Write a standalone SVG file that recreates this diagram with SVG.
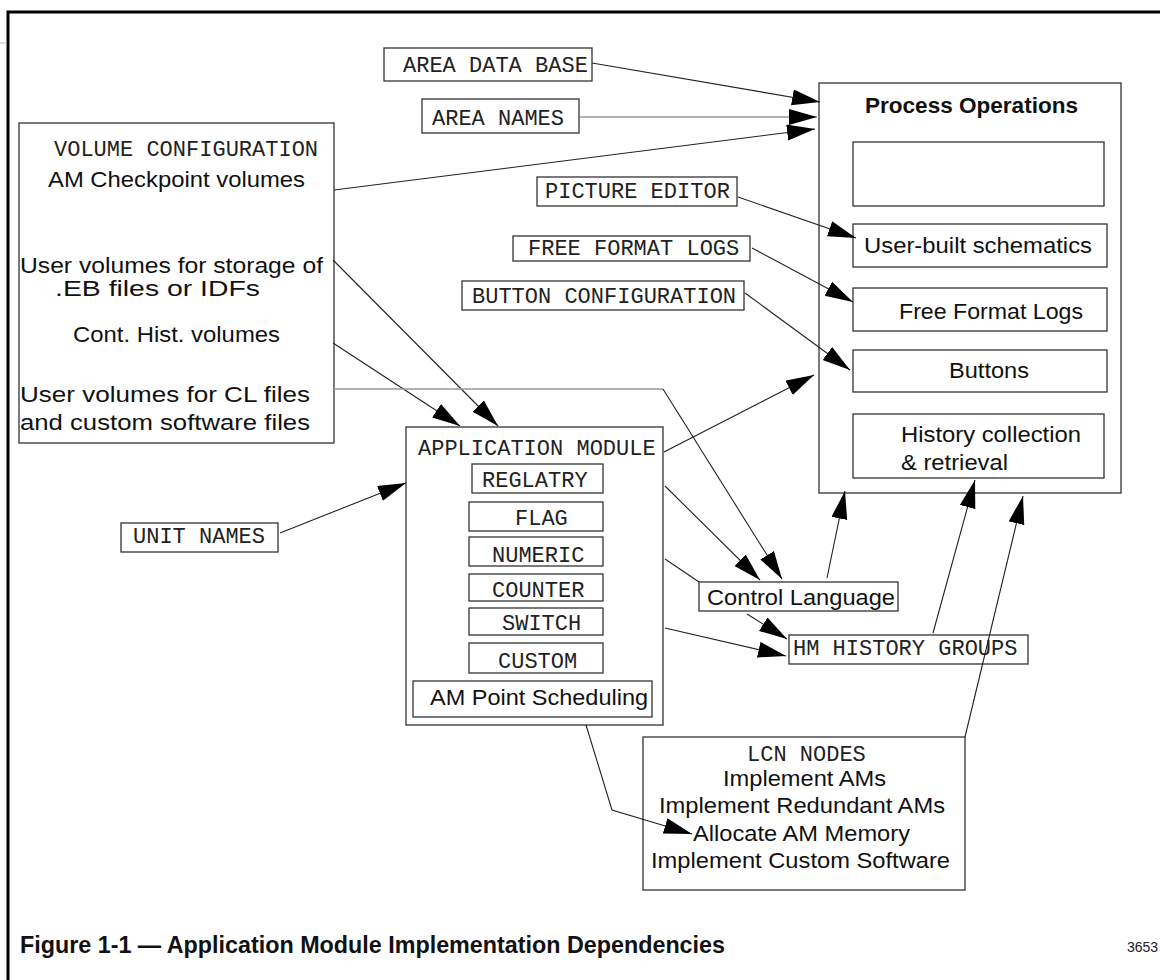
<svg xmlns="http://www.w3.org/2000/svg" width="1160" height="980" viewBox="0 0 1160 980">
  <defs>
    <style>
      .box { fill: #fff; stroke: #333; stroke-width: 1.3; }
      .mono { font-family: "Liberation Mono", "Courier New", monospace; font-size: 22px; fill: #222; }
      .sans { font-family: "Liberation Sans", Arial, sans-serif; font-size: 22px; fill: #111; }
      .bold { font-family: "Liberation Sans", Arial, sans-serif; font-weight: bold; fill: #111; }
      .wire { fill: none; stroke: #222; stroke-width: 1.1; }
      .wire.grey { stroke: #999; stroke-width: 1.4; }
      .frame { fill: none; stroke: #000; stroke-width: 3; }
    </style>
    <marker id="ah" markerUnits="userSpaceOnUse" markerWidth="30" markerHeight="18" refX="28" refY="8" orient="auto">
      <path d="M0,0 L28,8 L0,16 z" fill="#000"/>
    </marker>
  </defs>

  <rect width="1160" height="980" fill="#fff"/>

  <!-- page frame -->
  <g id="frame">
    <path class="frame" d="M8,980 L8,12 L1160,12"/>
    <line x1="0" y1="43" x2="7" y2="43" stroke="#bbb" stroke-width="1"/>
  </g>

  <g id="area-data-base">
    <rect class="box" x="384" y="48" width="208" height="33"/>
    <text class="mono" x="403" y="72">AREA DATA BASE</text>
  </g>

  <g id="area-names">
    <rect class="box" x="422" y="99" width="157" height="34"/>
    <text class="mono" x="432" y="125">AREA NAMES</text>
  </g>

  <g id="volume-configuration">
    <rect class="box" x="19" y="123" width="315" height="320"/>
    <text class="mono" x="54" y="156">VOLUME CONFIGURATION</text>
    <text class="sans" x="48" y="187" textLength="257" lengthAdjust="spacingAndGlyphs">AM Checkpoint volumes</text>
    <text class="sans" x="20" y="273" textLength="303" lengthAdjust="spacingAndGlyphs">User volumes for storage of</text>
    <text class="sans" x="55" y="296" textLength="205" lengthAdjust="spacingAndGlyphs">.EB files or IDFs</text>
    <text class="sans" x="73" y="342" textLength="207" lengthAdjust="spacingAndGlyphs">Cont. Hist. volumes</text>
    <text class="sans" x="20" y="402" textLength="290" lengthAdjust="spacingAndGlyphs">User volumes for CL files</text>
    <text class="sans" x="20" y="430" textLength="290" lengthAdjust="spacingAndGlyphs">and custom software files</text>
  </g>

  <g id="picture-editor">
    <rect class="box" x="537" y="177" width="200" height="29"/>
    <text class="mono" x="545" y="198">PICTURE EDITOR</text>
  </g>

  <g id="free-format-logs-config">
    <rect class="box" x="513" y="236" width="237" height="25"/>
    <text class="mono" x="528" y="255">FREE FORMAT LOGS</text>
  </g>

  <g id="button-configuration">
    <rect class="box" x="462" y="281" width="282" height="29"/>
    <text class="mono" x="472" y="303">BUTTON CONFIGURATION</text>
  </g>

  <g id="process-operations">
    <rect class="box" x="819" y="83" width="302" height="410"/>
    <text class="bold" x="865" y="113" font-size="22" textLength="213" lengthAdjust="spacingAndGlyphs">Process Operations</text>
    <rect class="box" x="853" y="142" width="251" height="64"/>
    <rect class="box" x="853" y="224" width="254" height="43"/>
    <text class="sans" x="864" y="253" textLength="228" lengthAdjust="spacingAndGlyphs">User-built schematics</text>
    <rect class="box" x="853" y="288" width="254" height="43"/>
    <text class="sans" x="899" y="319" textLength="184" lengthAdjust="spacingAndGlyphs">Free Format Logs</text>
    <rect class="box" x="853" y="350" width="254" height="42"/>
    <text class="sans" x="949" y="378" textLength="80" lengthAdjust="spacingAndGlyphs">Buttons</text>
    <rect class="box" x="853" y="414" width="251" height="64"/>
    <text class="sans" x="901" y="442" textLength="180" lengthAdjust="spacingAndGlyphs">History collection</text>
    <text class="sans" x="901" y="470" textLength="107" lengthAdjust="spacingAndGlyphs">&amp; retrieval</text>
  </g>

  <g id="application-module">
    <rect class="box" x="406" y="427" width="257" height="298"/>
    <text class="mono" x="418" y="455">APPLICATION MODULE</text>
    <rect class="box" x="472" y="464" width="131" height="29"/>
    <text class="mono" x="482" y="487">REGLATRY</text>
    <rect class="box" x="469" y="502" width="134" height="29"/>
    <text class="mono" x="515" y="525">FLAG</text>
    <rect class="box" x="469" y="537" width="134" height="29"/>
    <text class="mono" x="492" y="562">NUMERIC</text>
    <rect class="box" x="469" y="574" width="134" height="27"/>
    <text class="mono" x="492" y="597">COUNTER</text>
    <rect class="box" x="469" y="608" width="134" height="27"/>
    <text class="mono" x="502" y="630">SWITCH</text>
    <rect class="box" x="469" y="643" width="134" height="30"/>
    <text class="mono" x="498" y="668">CUSTOM</text>
    <rect class="box" x="413" y="681" width="239" height="36"/>
    <text class="sans" x="430" y="705" textLength="218" lengthAdjust="spacingAndGlyphs">AM Point Scheduling</text>
  </g>

  <g id="unit-names">
    <rect class="box" x="121" y="523" width="157" height="29"/>
    <text class="mono" x="133" y="543">UNIT NAMES</text>
  </g>

  <g id="control-language">
    <rect class="box" x="699" y="582" width="199" height="29"/>
    <text class="sans" x="707" y="605" textLength="188" lengthAdjust="spacingAndGlyphs">Control Language</text>
  </g>

  <g id="hm-history-groups">
    <rect class="box" x="789" y="635" width="239" height="29"/>
    <text class="mono" x="793" y="655">HM HISTORY GROUPS</text>
  </g>

  <g id="lcn-nodes">
    <rect class="box" x="643" y="737" width="322" height="153"/>
    <text class="mono" x="747" y="761">LCN NODES</text>
    <text class="sans" x="723" y="786" textLength="163" lengthAdjust="spacingAndGlyphs">Implement AMs</text>
    <text class="sans" x="659" y="813" textLength="286" lengthAdjust="spacingAndGlyphs">Implement Redundant AMs</text>
    <text class="sans" x="693" y="841" textLength="217" lengthAdjust="spacingAndGlyphs">Allocate AM Memory</text>
    <text class="sans" x="651" y="868" textLength="299" lengthAdjust="spacingAndGlyphs">Implement Custom Software</text>
  </g>

  <!-- connectors, drawn over the boxes so heads that end inside a box stay visible -->
  <g id="connectors">
    <line class="wire" x1="592" y1="63" x2="820" y2="102" marker-end="url(#ah)"/>
    <line class="wire grey" x1="580" y1="117" x2="817" y2="117" marker-end="url(#ah)"/>
    <line class="wire" x1="334" y1="190" x2="815" y2="129" marker-end="url(#ah)"/>
    <line class="wire" x1="738" y1="197" x2="856" y2="238" marker-end="url(#ah)"/>
    <line class="wire" x1="752" y1="248" x2="853" y2="302" marker-end="url(#ah)"/>
    <line class="wire" x1="745" y1="293" x2="850" y2="370" marker-end="url(#ah)"/>
    <line class="wire" x1="664" y1="452" x2="814" y2="375" marker-end="url(#ah)"/>
    <line class="wire" x1="333" y1="260" x2="498" y2="426" marker-end="url(#ah)"/>
    <line class="wire" x1="333" y1="343" x2="460" y2="426" marker-end="url(#ah)"/>
    <line class="wire grey" x1="334" y1="389" x2="663" y2="389"/>
    <line class="wire" x1="663" y1="389" x2="782" y2="579" marker-end="url(#ah)"/>
    <line class="wire" x1="280" y1="533" x2="406" y2="483" marker-end="url(#ah)"/>
    <line class="wire" x1="665" y1="486" x2="760" y2="580" marker-end="url(#ah)"/>
    <line class="wire" x1="665" y1="559" x2="699" y2="582"/>
    <line class="wire" x1="747" y1="614" x2="787" y2="639" marker-end="url(#ah)"/>
    <line class="wire" x1="665" y1="628" x2="786" y2="656" marker-end="url(#ah)"/>
    <line class="wire" x1="827" y1="578" x2="845" y2="491" marker-end="url(#ah)"/>
    <line class="wire" x1="933" y1="633" x2="975" y2="480" marker-end="url(#ah)"/>
    <line class="wire" x1="965" y1="737" x2="1023" y2="496" marker-end="url(#ah)"/>
    <polyline class="wire" points="586,725 612,810 692,834" marker-end="url(#ah)"/>
  </g>

  <g id="caption">
    <text class="bold" x="20" y="953" font-size="23" textLength="705" lengthAdjust="spacingAndGlyphs">Figure 1-1 — Application Module Implementation Dependencies</text>
    <text x="1127" y="952" font-family="'Liberation Sans', Arial, sans-serif" font-size="14" fill="#222">3653</text>
  </g>
</svg>
